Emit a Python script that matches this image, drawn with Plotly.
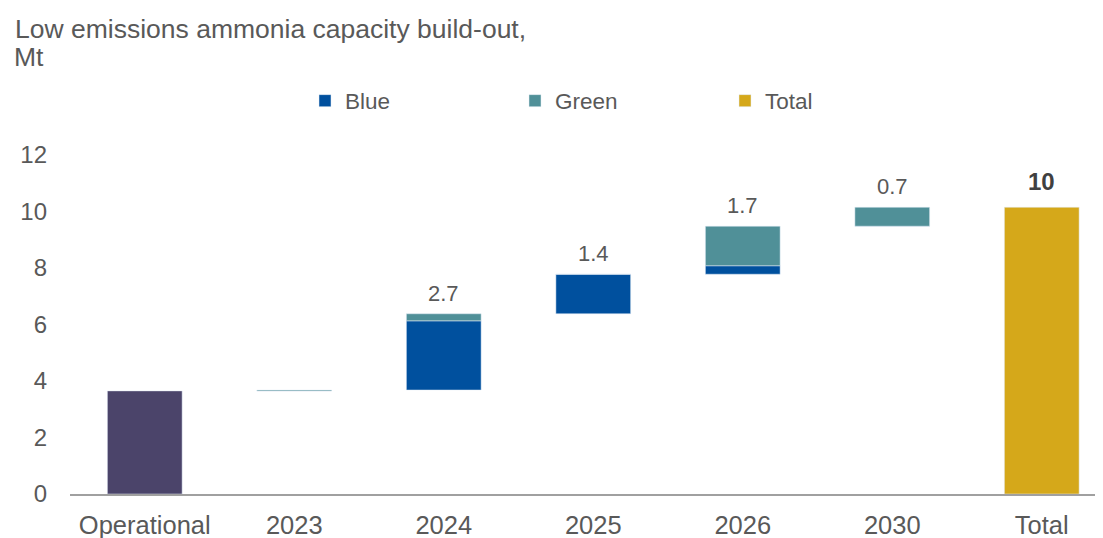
import plotly.graph_objects as go
import numpy as np

categories = ["Operational", "2023", "2024", "2025", "2026", "2030", "Total"]
operational = 3.65
blue = [0.0, 2.45, 1.40, 0.30, 0.0]      # 2023..2030
green = [0.03, 0.25, 0.0, 1.40, 0.67]    # 2023..2030
step_labels = ["", "2.7", "1.4", "1.7", "0.7"]
total_label = "10"

step_cats = categories[1:-1]
blue_a = np.array(blue)
green_a = np.array(green)
steps = blue_a + green_a
ends = operational + np.cumsum(steps)
starts = ends - steps
total = float(ends[-1])

C_PURPLE = "#4B446A"
C_BLUE = "#00509E"
C_GREEN = "#509098"
C_GOLD = "#D5A81A"
TXT = "#595959"
FONT = "Liberation Sans, Arial, sans-serif"

W, H = 1095, 530  # page body has an 8px margin

fig = go.Figure()
fig.add_trace(go.Bar(x=[categories[0]], y=[operational], marker_color=C_PURPLE,
                     showlegend=False, width=0.5, hoverinfo="skip"))
fig.add_trace(go.Bar(x=step_cats, y=blue_a, base=starts, name="Blue",
                     marker_color=C_BLUE, width=0.5))
fig.add_trace(go.Bar(x=step_cats, y=green_a, base=starts + blue_a, name="Green",
                     marker_color=C_GREEN, width=0.5))
fig.add_trace(go.Bar(x=[categories[-1]], y=[total], name="Total",
                     marker_color=C_GOLD, width=0.5))

for i, (e, lab) in enumerate(zip(ends, step_labels), start=1):
    if lab:
        fig.add_annotation(x=i, y=float(e), text=lab, showarrow=False, yanchor="bottom",
                           yshift=6, font=dict(size=22, color=TXT, family=FONT))
fig.add_annotation(x=len(categories) - 1, y=total, text="<b>" + total_label + "</b>",
                   showarrow=False, yanchor="bottom", yshift=10,
                   font=dict(size=24, color="#404040", family=FONT))

# second title line
fig.add_annotation(xref="paper", yref="paper", x=-58 / 1033, y=1 + (147 - 49) / 339,
                   xanchor="left", yanchor="middle", text="Mt", showarrow=False,
                   font=dict(size=26.5, color=TXT, family=FONT))

fig.update_layout(
    width=W, height=H,
    barmode="overlay",
    plot_bgcolor="white", paper_bgcolor="white",
    margin=dict(l=62, r=0, t=147, b=44, autoexpand=False),
    font=dict(family=FONT, size=22, color=TXT),
    title=dict(text="Low emissions ammonia capacity build-out,",
               x=7 / W, xanchor="left", xref="container",
               y=1 - 11 / H, yanchor="top", yref="container",
               font=dict(size=26.5, color=TXT, family=FONT)),
    legend=dict(orientation="h", x=0.2275, xanchor="left", y=1 + 54 / 339,
                yanchor="middle", entrywidth=165, font=dict(size=22.5, color=TXT),
                itemclick=False),
    xaxis=dict(type="category", range=[-0.5, -0.5 + 1033 / 149.5], showgrid=False,
               showline=True, linecolor="#A0A0A0", linewidth=2,
               ticks="", ticklabelstandoff=7,
               tickfont=dict(size=25.5, color=TXT)),
    yaxis=dict(range=[0, 12], dtick=2, showgrid=False, zeroline=False,
               showline=False, ticks="", ticklabelstandoff=22,
               tickfont=dict(size=24, color=TXT)),
)

fig.write_html("out.html")
